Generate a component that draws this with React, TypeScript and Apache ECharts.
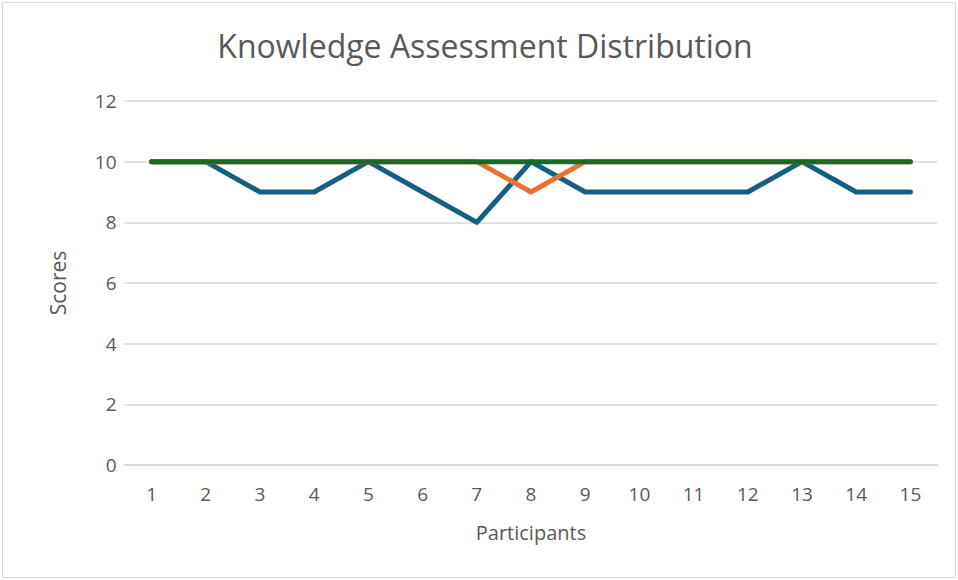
import React, { useEffect, useRef } from "react";
import * as echarts from "echarts";

const categories = ["1", "2", "3", "4", "5", "6", "7", "8", "9", "10", "11", "12", "13", "14", "15"];
const seriesBlue = [10, 10, 9, 9, 10, 9, 8, 10, 9, 9, 9, 9, 10, 9, 9];
const seriesOrange = [10, 10, 10, 10, 10, 10, 10, 9, 10, 10, 10, 10, 10, 10, 10];
const seriesGreen = [10, 10, 10, 10, 10, 10, 10, 10, 10, 10, 10, 10, 10, 10, 10];
const seriesNames = ["Series1", "Series2", "Series3"];
const colors = ["#156082", "#E97132", "#196B24"];

export default function App() {
  const ref = useRef<HTMLDivElement>(null);
  useEffect(() => {
    document.body.style.margin = "0";
    const chart = echarts.init(ref.current!, null, { renderer: "svg" });
    const font = "Open Sans";
    const data = [seriesBlue, seriesOrange, seriesGreen];
    chart.setOption({
      animation: false,
      backgroundColor: "#ffffff",
      title: {
        text: "Knowledge Assessment Distribution",
        left: 485,
        textAlign: "center",
        top: 24,
        textStyle: { fontFamily: font, fontSize: 32, fontWeight: "normal", color: "#595959" },
      },
      graphic: [
        {
          type: "rect",
          shape: { x: 2.5, y: 2.5, width: 953, height: 575 },
          style: { fill: "none", stroke: "#d9d9d9", lineWidth: 1 },
          silent: true,
        },
      ],
      grid: { left: 124.5, right: 20.5, top: 101, bottom: 115, containLabel: false },
      xAxis: {
        type: "category",
        data: categories,
        boundaryGap: true,
        name: "Participants",
        nameLocation: "middle",
        nameGap: 57,
        nameTextStyle: { fontFamily: font, fontSize: 20, color: "#595959" },
        axisLine: { show: true, lineStyle: { color: "#d9d9d9", width: 1.5 } },
        axisTick: { show: false },
        axisLabel: { fontFamily: font, fontSize: 19, color: "#595959", margin: 19 },
        splitLine: { show: false },
      },
      yAxis: {
        type: "value",
        min: 0,
        max: 12,
        interval: 2,
        name: "Scores",
        nameLocation: "middle",
        nameGap: 56,
        nameTextStyle: { fontFamily: font, fontSize: 21, color: "#595959" },
        axisLine: { show: false },
        axisTick: { show: false },
        axisLabel: { fontFamily: font, fontSize: 19, color: "#595959", margin: 8 },
        splitLine: { show: true, lineStyle: { color: "#d9d9d9", width: 1.5 } },
      },
      series: data.map((d, i) => ({
        name: seriesNames[i],
        type: "line",
        data: d,
        symbol: "none",
        lineStyle: { color: colors[i], width: 5, cap: "round", join: "round" },
        itemStyle: { color: colors[i] },
        z: 2 + i,
      })),
    });
    chart.setOption({ title: { left: 480 } });
    return () => chart.dispose();
  }, []);
  return <div ref={ref} style={{ width: 958, height: 580 }} />;
}
